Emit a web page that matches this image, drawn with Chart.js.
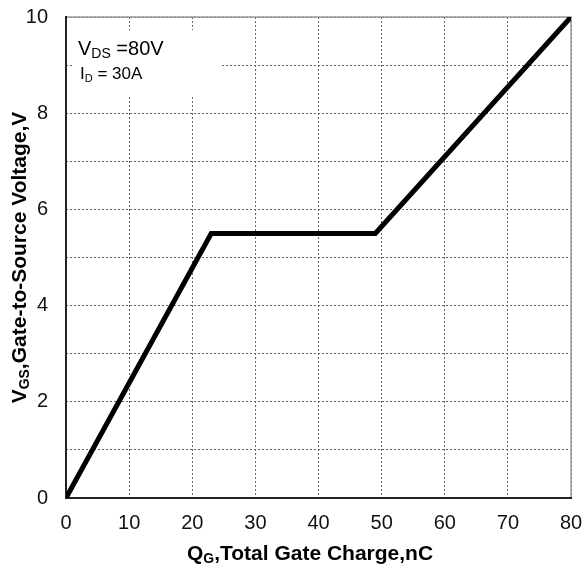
<!DOCTYPE html>
<html><head><meta charset="utf-8">
<style>html,body{margin:0;padding:0;background:#fff}</style>
<script src="https://cdn.jsdelivr.net/npm/chart.js@4.4.1/dist/chart.umd.min.js"></script>
</head><body>
<canvas id="c" width="583" height="566"></canvas>
<script>
// Data
const qg = [0, 23, 49, 80];          // Total gate charge, nC
const vgs = [0, 5.5, 5.5, 10];        // Gate-to-source voltage, V
const yLabelValues = [0, 2, 4, 6, 8, 10];
const FONT = "'Liberation Sans', Arial, sans-serif";

function drawSubText(ctx, parts, x, y) {
  let cx = x;
  parts.forEach(p => {
    ctx.font = (p[2] ? 'bold ' : '') + p[1] + 'px ' + FONT;
    ctx.fillText(p[0], cx, y + (p[3] || 0));
    cx += ctx.measureText(p[0]).width;
  });
  return cx;
}
function measureParts(ctx, parts) {
  let w = 0;
  parts.forEach(p => { ctx.font = (p[2] ? 'bold ' : '') + p[1] + 'px ' + FONT; w += ctx.measureText(p[0]).width; });
  return w;
}

const decor = {
  id: 'decor',
  beforeDatasetsDraw(chart) {
    const ctx = chart.ctx, a = chart.chartArea;
    ctx.save();
    ctx.fillStyle = '#fff';
    ctx.fillRect(a.left + 7, a.top + 13, 149, 65);
    ctx.lineCap = 'square';
    ctx.strokeStyle = '#999'; ctx.lineWidth = 1.5;
    ctx.beginPath();
    ctx.moveTo(a.left, a.top); ctx.lineTo(a.right, a.top); ctx.lineTo(a.right, a.bottom);
    ctx.stroke();
    ctx.strokeStyle = '#222'; ctx.lineWidth = 2;
    ctx.beginPath();
    ctx.moveTo(a.left, a.top); ctx.lineTo(a.left, a.bottom); ctx.lineTo(a.right, a.bottom);
    ctx.stroke();
    ctx.restore();
  },
  afterDraw(chart) {
    const ctx = chart.ctx, a = chart.chartArea;
    ctx.save();
    ctx.fillStyle = '#000';
    ctx.textBaseline = 'alphabetic';
    ctx.textAlign = 'left';
    drawSubText(ctx, [['V', 20], ['DS', 14, false, 3], [' =80V', 20]], a.left + 12, a.top + 38);
    drawSubText(ctx, [['I', 17], ['D', 11, false, 3], [' = 30A', 17]], a.left + 14, a.top + 62);
    const xParts = [['Q', 21, true], ['G', 14, true, 3], [',Total Gate Charge,nC', 21, true]];
    const xw = measureParts(ctx, xParts);
    drawSubText(ctx, xParts, 310 - xw / 2, 560);
    const yParts = [['V', 21, true], ['GS', 14, true, 3], [',Gate-to-Source Voltage,V', 21, true]];
    const yw = measureParts(ctx, yParts);
    ctx.translate(26, (a.top + a.bottom) / 2);
    ctx.rotate(-Math.PI / 2);
    drawSubText(ctx, yParts, -yw / 2, 0);
    ctx.restore();
  }
};

new Chart(document.getElementById('c'), {
  type: 'line',
  data: {
    datasets: [{
      data: qg.map((x, i) => ({ x: x, y: vgs[i] })),
      borderColor: '#000',
      borderWidth: 5,
      borderJoinStyle: 'miter',
      pointRadius: 0,
      tension: 0,
      fill: false
    }]
  },
  options: {
    responsive: false,
    animation: false,
    devicePixelRatio: 1,
    layout: { padding: { left: 0, right: 12, top: 17, bottom: 0 } },
    plugins: { legend: { display: false }, tooltip: { enabled: false } },
    scales: {
      x: {
        type: 'linear', min: 0, max: 80,
        afterFit(s) { s.height = 68; s.paddingLeft = 0; s.paddingRight = 0; },
        ticks: { stepSize: 10, color: '#111', padding: 13, font: { family: FONT, size: 20 }, maxRotation: 0 },
        grid: { color: '#666', lineWidth: 1, drawTicks: false },
        border: { display: false, dash: [2, 2] }
      },
      y: {
        type: 'linear', min: 0, max: 10,
        afterFit(s) { s.width = 66; s.paddingTop = 0; s.paddingBottom = 0; },
        ticks: {
          stepSize: 1, color: '#111', padding: 18, font: { family: FONT, size: 20 },
          callback: v => yLabelValues.includes(v) ? String(v) : ''
        },
        grid: { color: '#666', lineWidth: 1, drawTicks: false },
        border: { display: false, dash: [2, 2] }
      }
    }
  },
  plugins: [decor]
});
</script>
</body></html>
